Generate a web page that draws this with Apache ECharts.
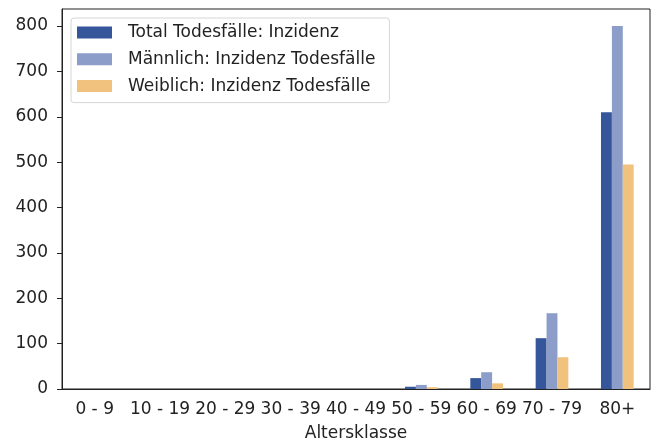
<!DOCTYPE html>
<html>
<head>
<meta charset="utf-8">
<script src="https://cdn.jsdelivr.net/npm/echarts@6/dist/echarts.min.js"></script>
<style>
  html, body { margin: 0; padding: 0; background: #fff; }
  #chart { width: 661px; height: 441px; }
</style>
</head>
<body>
<div id="chart"></div>
<script>
// Altersklassen und Inzidenzen
var categories = ['0 - 9', '10 - 19', '20 - 29', '30 - 39', '40 - 49', '50 - 59', '60 - 69', '70 - 79', '80+']
var totalValues = [0, 0, 0, 0, 0, 5, 24, 112, 610]
var maleValues = [0, 0, 0, 0, 0, 9, 37, 167, 800]
var femaleValues = [0, 0, 0, 0, 0, 4, 12.5, 70, 495]
var yTicks = [0, 100, 200, 300, 400, 500, 600, 700, 800]

var seriesNames = ['Total Todesfälle: Inzidenz', 'Männlich: Inzidenz Todesfälle', 'Weiblich: Inzidenz Todesfälle']
var colors = ['#36569b', '#8b9dc8', '#f1c27d']

var myChart = echarts.init(document.getElementById('chart'))
var font = 'DejaVu Sans'
var option = {
  backgroundColor: '#fff',
  animation: false,
  textStyle: { fontFamily: font },
  grid: {
    left: 62,
    right: 11,
    top: 9,
    bottom: 52,
    outerBoundsMode: 'none',
    containLabel: false,
    show: true,
    borderColor: '#222',
    borderWidth: 1
  },
  legend: {
    orient: 'vertical',
    left: 71,
    top: 18,
    padding: [6, 14, 8, 6],
    backgroundColor: '#fff',
    borderColor: '#d6d6d6',
    borderWidth: 1,
    borderRadius: 3,
    icon: 'rect',
    itemWidth: 35,
    itemHeight: 12,
    itemGap: 9.8,
    textStyle: {
      fontFamily: font,
      fontSize: 17,
      color: '#222',
      padding: [0, 0, 0, 11]
    },
    data: seriesNames
  },
  xAxis: {
    type: 'category',
    data: categories,
    name: 'Altersklasse',
    nameLocation: 'middle',
    nameGap: 36,
    nameTextStyle: { fontFamily: font, fontSize: 17, color: '#222' },
    axisLine: { lineStyle: { color: '#222', width: 1 } },
    axisTick: { alignWithLabel: true, length: 5, lineStyle: { color: '#222' } },
    axisLabel: { interval: 0, margin: 12, fontFamily: font, fontSize: 17, color: '#222' }
  },
  yAxis: {
    type: 'value',
    min: 0,
    max: 837.5,
    interval: 100,
    axisLine: { show: true, lineStyle: { color: '#222', width: 1 } },
    axisTick: { show: true, length: 5, lineStyle: { color: '#222' }, customValues: yTicks },
    splitLine: { show: false },
    axisLabel: { margin: 14, fontFamily: font, fontSize: 17, color: '#222', customValues: yTicks }
  },
  series: [
    { name: seriesNames[0], type: 'bar', data: totalValues, barWidth: 10.9, barGap: '0%', itemStyle: { color: colors[0] } },
    { name: seriesNames[1], type: 'bar', data: maleValues, barWidth: 10.9, barGap: '0%', itemStyle: { color: colors[1] } },
    { name: seriesNames[2], type: 'bar', data: femaleValues, barWidth: 10.9, barGap: '0%', itemStyle: { color: colors[2] } }
  ]
}
myChart.setOption(option)
</script>
</body>
</html>
